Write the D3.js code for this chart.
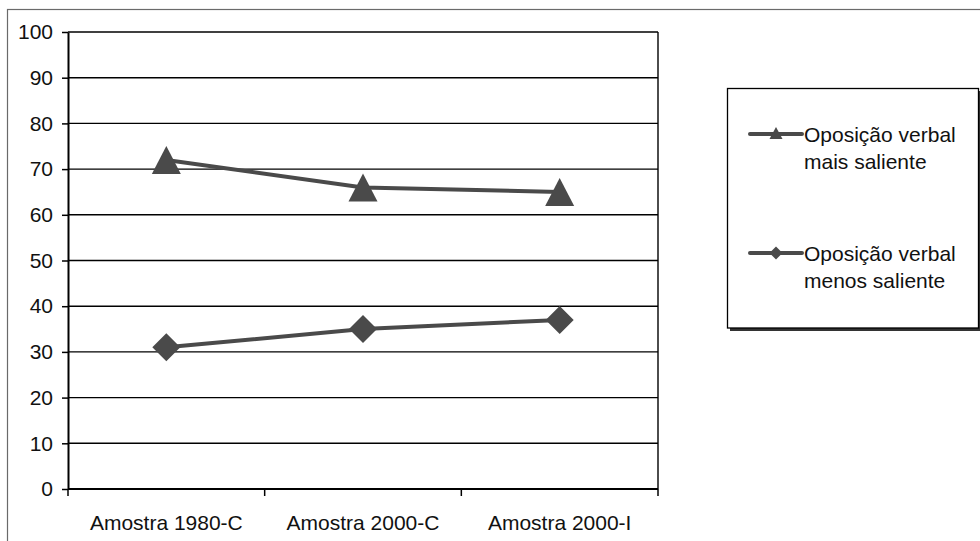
<!DOCTYPE html>
<html>
<head>
<meta charset="utf-8">
<script src="https://cdn.jsdelivr.net/npm/d3@7"></script>
<style>
  html, body { margin: 0; padding: 0; background: #fff; }
  svg { display: block; font-family: "Liberation Sans", Arial, sans-serif; }
</style>
</head>
<body>
<svg id="chart" width="980" height="541"></svg>
<script>
// Data
const categories = ["Amostra 1980-C", "Amostra 2000-C", "Amostra 2000-I"];
const maisSaliente = [72, 66, 65];
const menosSaliente = [31, 35, 37];
const yTicks = [0, 10, 20, 30, 40, 50, 60, 70, 80, 90, 100];
const seriesNames = [["Oposição verbal", "mais saliente"], ["Oposição verbal", "menos saliente"]];

const svg = d3.select("#chart");
const ink = "#4a4a4a";

// Outer chart frame
svg.append("rect")
  .attr("x", 7.5).attr("y", 9.5)
  .attr("width", 985).attr("height", 545)
  .attr("fill", "#fff").attr("stroke", "#6a6a6a").attr("stroke-width", 1.2);

const plot = { left: 68, right: 658, top: 32, bottom: 489 };

const x = d3.scaleBand().domain(categories).range([plot.left, plot.right]);
const y = d3.scaleLinear().domain([0, 100]).range([plot.bottom, plot.top]);

// Horizontal gridlines
svg.append("g")
  .selectAll("line")
  .data(yTicks.filter(d => d > 0))
  .join("line")
  .attr("x1", plot.left).attr("x2", plot.right)
  .attr("y1", d => y(d)).attr("y2", d => y(d))
  .attr("stroke", "#000").attr("stroke-width", 1.4);

// Right edge of plot area
svg.append("line")
  .attr("x1", plot.right).attr("x2", plot.right)
  .attr("y1", plot.top).attr("y2", plot.bottom)
  .attr("stroke", "#000").attr("stroke-width", 1.4);

// Y axis
const yAxis = svg.append("g")
  .attr("transform", `translate(${plot.left},0)`)
  .call(d3.axisLeft(y).tickValues(yTicks).tickSize(6).tickPadding(9).tickSizeOuter(0));
yAxis.select(".domain").attr("stroke", "#000").attr("stroke-width", 2);
yAxis.selectAll(".tick line").attr("stroke", "#000").attr("stroke-width", 1.5);
yAxis.selectAll(".tick text")
  .attr("font-size", 21).attr("fill", "#111")
  .attr("font-family", "Liberation Sans, Arial, sans-serif");

// X axis with ticks on category boundaries
const xAxis = svg.append("g")
  .attr("transform", `translate(0,${plot.bottom})`);
xAxis.append("line")
  .attr("x1", plot.left).attr("x2", plot.right)
  .attr("y1", 0).attr("y2", 0)
  .attr("stroke", "#000").attr("stroke-width", 2);
const bounds = categories.map(c => x(c)).concat([x(categories[categories.length - 1]) + x.bandwidth()]);
xAxis.selectAll("line.tk")
  .data(bounds)
  .join("line")
  .attr("class", "tk")
  .attr("x1", d => d).attr("x2", d => d)
  .attr("y1", 0).attr("y2", 7)
  .attr("stroke", "#000").attr("stroke-width", 1.5);
xAxis.selectAll("text")
  .data(categories)
  .join("text")
  .attr("x", d => x(d) + x.bandwidth() / 2)
  .attr("y", 41)
  .attr("text-anchor", "middle")
  .attr("font-size", 21).attr("fill", "#111")
  .text(d => d);

// Markers
const cx = (i) => x(categories[i]) + x.bandwidth() / 2;
function triangle(px, py, w, h) {
  return `M${px},${py - h / 2}L${px + w / 2},${py + h / 2}L${px - w / 2},${py + h / 2}Z`;
}
function diamond(px, py, w, h) {
  return `M${px},${py - h / 2}L${px + w / 2},${py}L${px},${py + h / 2}L${px - w / 2},${py}Z`;
}

const line = d3.line().x((d, i) => cx(i)).y(d => y(d));

// Series: mais saliente (triangles)
svg.append("path")
  .datum(maisSaliente)
  .attr("d", line)
  .attr("fill", "none").attr("stroke", ink).attr("stroke-width", 4);
svg.append("g").selectAll("path")
  .data(maisSaliente)
  .join("path")
  .attr("d", (d, i) => triangle(cx(i), y(d), 29, 28))
  .attr("fill", ink);

// Series: menos saliente (diamonds)
svg.append("path")
  .datum(menosSaliente)
  .attr("d", line)
  .attr("fill", "none").attr("stroke", ink).attr("stroke-width", 4);
svg.append("g").selectAll("path")
  .data(menosSaliente)
  .join("path")
  .attr("d", (d, i) => diamond(cx(i), y(d), 28, 28))
  .attr("fill", ink);

// Legend
const lg = svg.append("g");
lg.append("rect")
  .attr("x", 730).attr("y", 91).attr("width", 252).attr("height", 240)
  .attr("fill", "#333");
lg.append("rect")
  .attr("x", 727.5).attr("y", 88.5).attr("width", 251).attr("height", 239.5)
  .attr("fill", "#fff").attr("stroke", "#000").attr("stroke-width", 1.3);

const legendRows = [
  { names: seriesNames[0], cy: 134, shape: "tri" },
  { names: seriesNames[1], cy: 253, shape: "dia" }
];
legendRows.forEach(r => {
  lg.append("line")
    .attr("x1", 750).attr("x2", 802)
    .attr("y1", r.cy).attr("y2", r.cy)
    .attr("stroke", ink).attr("stroke-width", 4).attr("stroke-linecap", "round");
  lg.append("path")
    .attr("d", r.shape === "tri" ? triangle(776, r.cy - 1, 13, 12) : diamond(776, r.cy, 13, 13))
    .attr("fill", ink);
  const t = lg.append("text")
    .attr("x", 804).attr("y", r.cy + 8)
    .attr("font-size", 21).attr("fill", "#111");
  t.append("tspan").attr("x", 804).text(r.names[0]);
  t.append("tspan").attr("x", 804).attr("dy", 27).text(r.names[1]);
});
</script>
</body>
</html>
